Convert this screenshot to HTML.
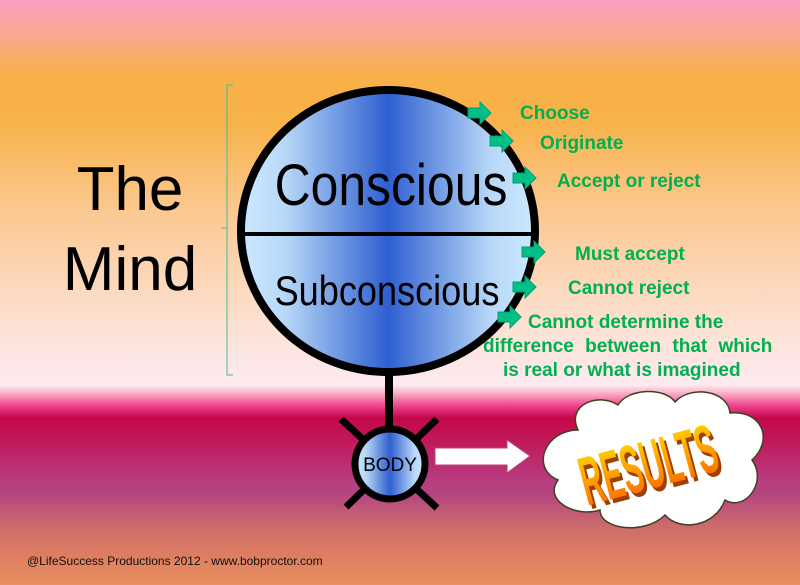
<!DOCTYPE html>
<html><head><meta charset="utf-8"><style>
html,body{margin:0;padding:0;width:800px;height:585px;overflow:hidden}
body{background:linear-gradient(to bottom,#f9a0c0 0px,#f9a898 30px,#f8b048 75px,#f8b24a 123px,#fbc890 210px,#fde0d0 320px,#fdeaf0 385px,#f8a0c0 395px,#f04890 405px,#c4084a 418px,#c01858 440px,#b83c80 480px,#b54680 495px,#cc6a6c 525px,#e08060 560px,#e89060 585px)}
</style></head><body>
<svg width="800" height="585" viewBox="0 0 800 585" xmlns="http://www.w3.org/2000/svg" style="position:absolute;left:0;top:0">
<defs>
<linearGradient id="b" x1="0" x2="1" y1="0" y2="0">
<stop offset="0" stop-color="#cde9ff"/><stop offset="0.15" stop-color="#b8d8f8"/><stop offset="0.5" stop-color="#2e5fd0"/><stop offset="0.85" stop-color="#b8d8f8"/><stop offset="1" stop-color="#cde9ff"/></linearGradient>
<linearGradient id="r" x1="0" x2="0" y1="0" y2="1"><stop offset="0" stop-color="#ffe000"/><stop offset="1" stop-color="#ff5a00"/></linearGradient>
<g id="ar"><path d="M0,5 h12 v-6 l11,11 l-11,11 v-6 h-12 z" fill="#00c088" stroke="#00a070" stroke-width="1"/></g>
</defs>
<path d="M233,85 h-6 v290 h6 M227,228 h-6" fill="none" stroke="#40c090" stroke-width="1"/>
<text x="130" y="210" font-family="Liberation Sans,sans-serif" font-size="62" text-anchor="middle" fill="#000">The</text>
<text x="130" y="290" font-family="Liberation Sans,sans-serif" font-size="62" text-anchor="middle" fill="#000">Mind</text>
<line x1="389" y1="374" x2="389" y2="430" stroke="#000" stroke-width="8"/>
<ellipse cx="388" cy="231" rx="147" ry="141" fill="url(#b)" stroke="#000" stroke-width="8"/>
<line x1="242" y1="234" x2="534" y2="234" stroke="#000" stroke-width="4"/>
<text x="391" y="205" font-family="Liberation Sans,sans-serif" font-size="58" text-anchor="middle" fill="#000" transform="translate(391 0) scale(0.86 1) translate(-391 0)">Conscious</text>
<text x="387" y="305" font-family="Liberation Sans,sans-serif" font-size="42" text-anchor="middle" fill="#000" transform="translate(387 0) scale(0.86 1) translate(-387 0)">Subconscious</text>
<use href="#ar" x="468" y="103"/><use href="#ar" x="490" y="131"/><use href="#ar" x="513" y="168"/>
<use href="#ar" x="522" y="242"/><use href="#ar" x="513" y="277"/><use href="#ar" x="498" y="307"/>
<g font-family="Liberation Sans,sans-serif" font-size="19" font-weight="bold" fill="#00b050">
<text x="520" y="119">Choose</text>
<text x="540" y="149">Originate</text>
<text x="557" y="187">Accept or reject</text>
<text x="575" y="260">Must accept</text>
<text x="568" y="294">Cannot reject</text>
<text x="528" y="328">Cannot determine the</text>
<text x="483" y="352" word-spacing="6">difference  between  that which</text>
<text x="503" y="376">is real or what is imagined</text>
</g>
<line x1="341" y1="419" x2="437" y2="508" stroke="#000" stroke-width="7"/>
<line x1="437" y1="419" x2="346" y2="507" stroke="#000" stroke-width="7"/>
<circle cx="390" cy="464" r="35" fill="url(#b)" stroke="#000" stroke-width="7"/>
<text x="390" y="471" font-family="Liberation Sans,sans-serif" font-size="19" text-anchor="middle" fill="#000">BODY</text>
<path d="M435,448 h72 v-8 l23,16 l-23,17 v-8 h-72 z" fill="#fff" stroke="#c04070" stroke-width="1"/>
<path d="M578,430 C566,405 598,392 618,405 C628,388 665,387 675,402 C690,385 728,390 730,413 C762,410 774,440 752,460 C768,482 745,512 725,500 C715,527 680,532 665,515 C645,535 600,530 600,510 C575,518 543,500 558,480 C530,468 545,430 578,430 Z" fill="#fff" stroke="#404020" stroke-width="1.5"/>
<g transform="translate(648 463) rotate(-15)">
<text x="3" y="20" font-family="Liberation Sans,sans-serif" font-size="46" font-weight="bold" text-anchor="middle" fill="#a04000" transform="scale(0.66 1.5)">RESULTS</text>
<text x="0" y="17" font-family="Liberation Sans,sans-serif" font-size="46" font-weight="bold" text-anchor="middle" fill="url(#r)" transform="scale(0.66 1.5)">RESULTS</text>
</g>
<text x="27" y="565" font-family="Liberation Sans,sans-serif" font-size="12" fill="#111">@LifeSuccess Productions 2012 - www.bobproctor.com</text>
</svg>
</body></html>
